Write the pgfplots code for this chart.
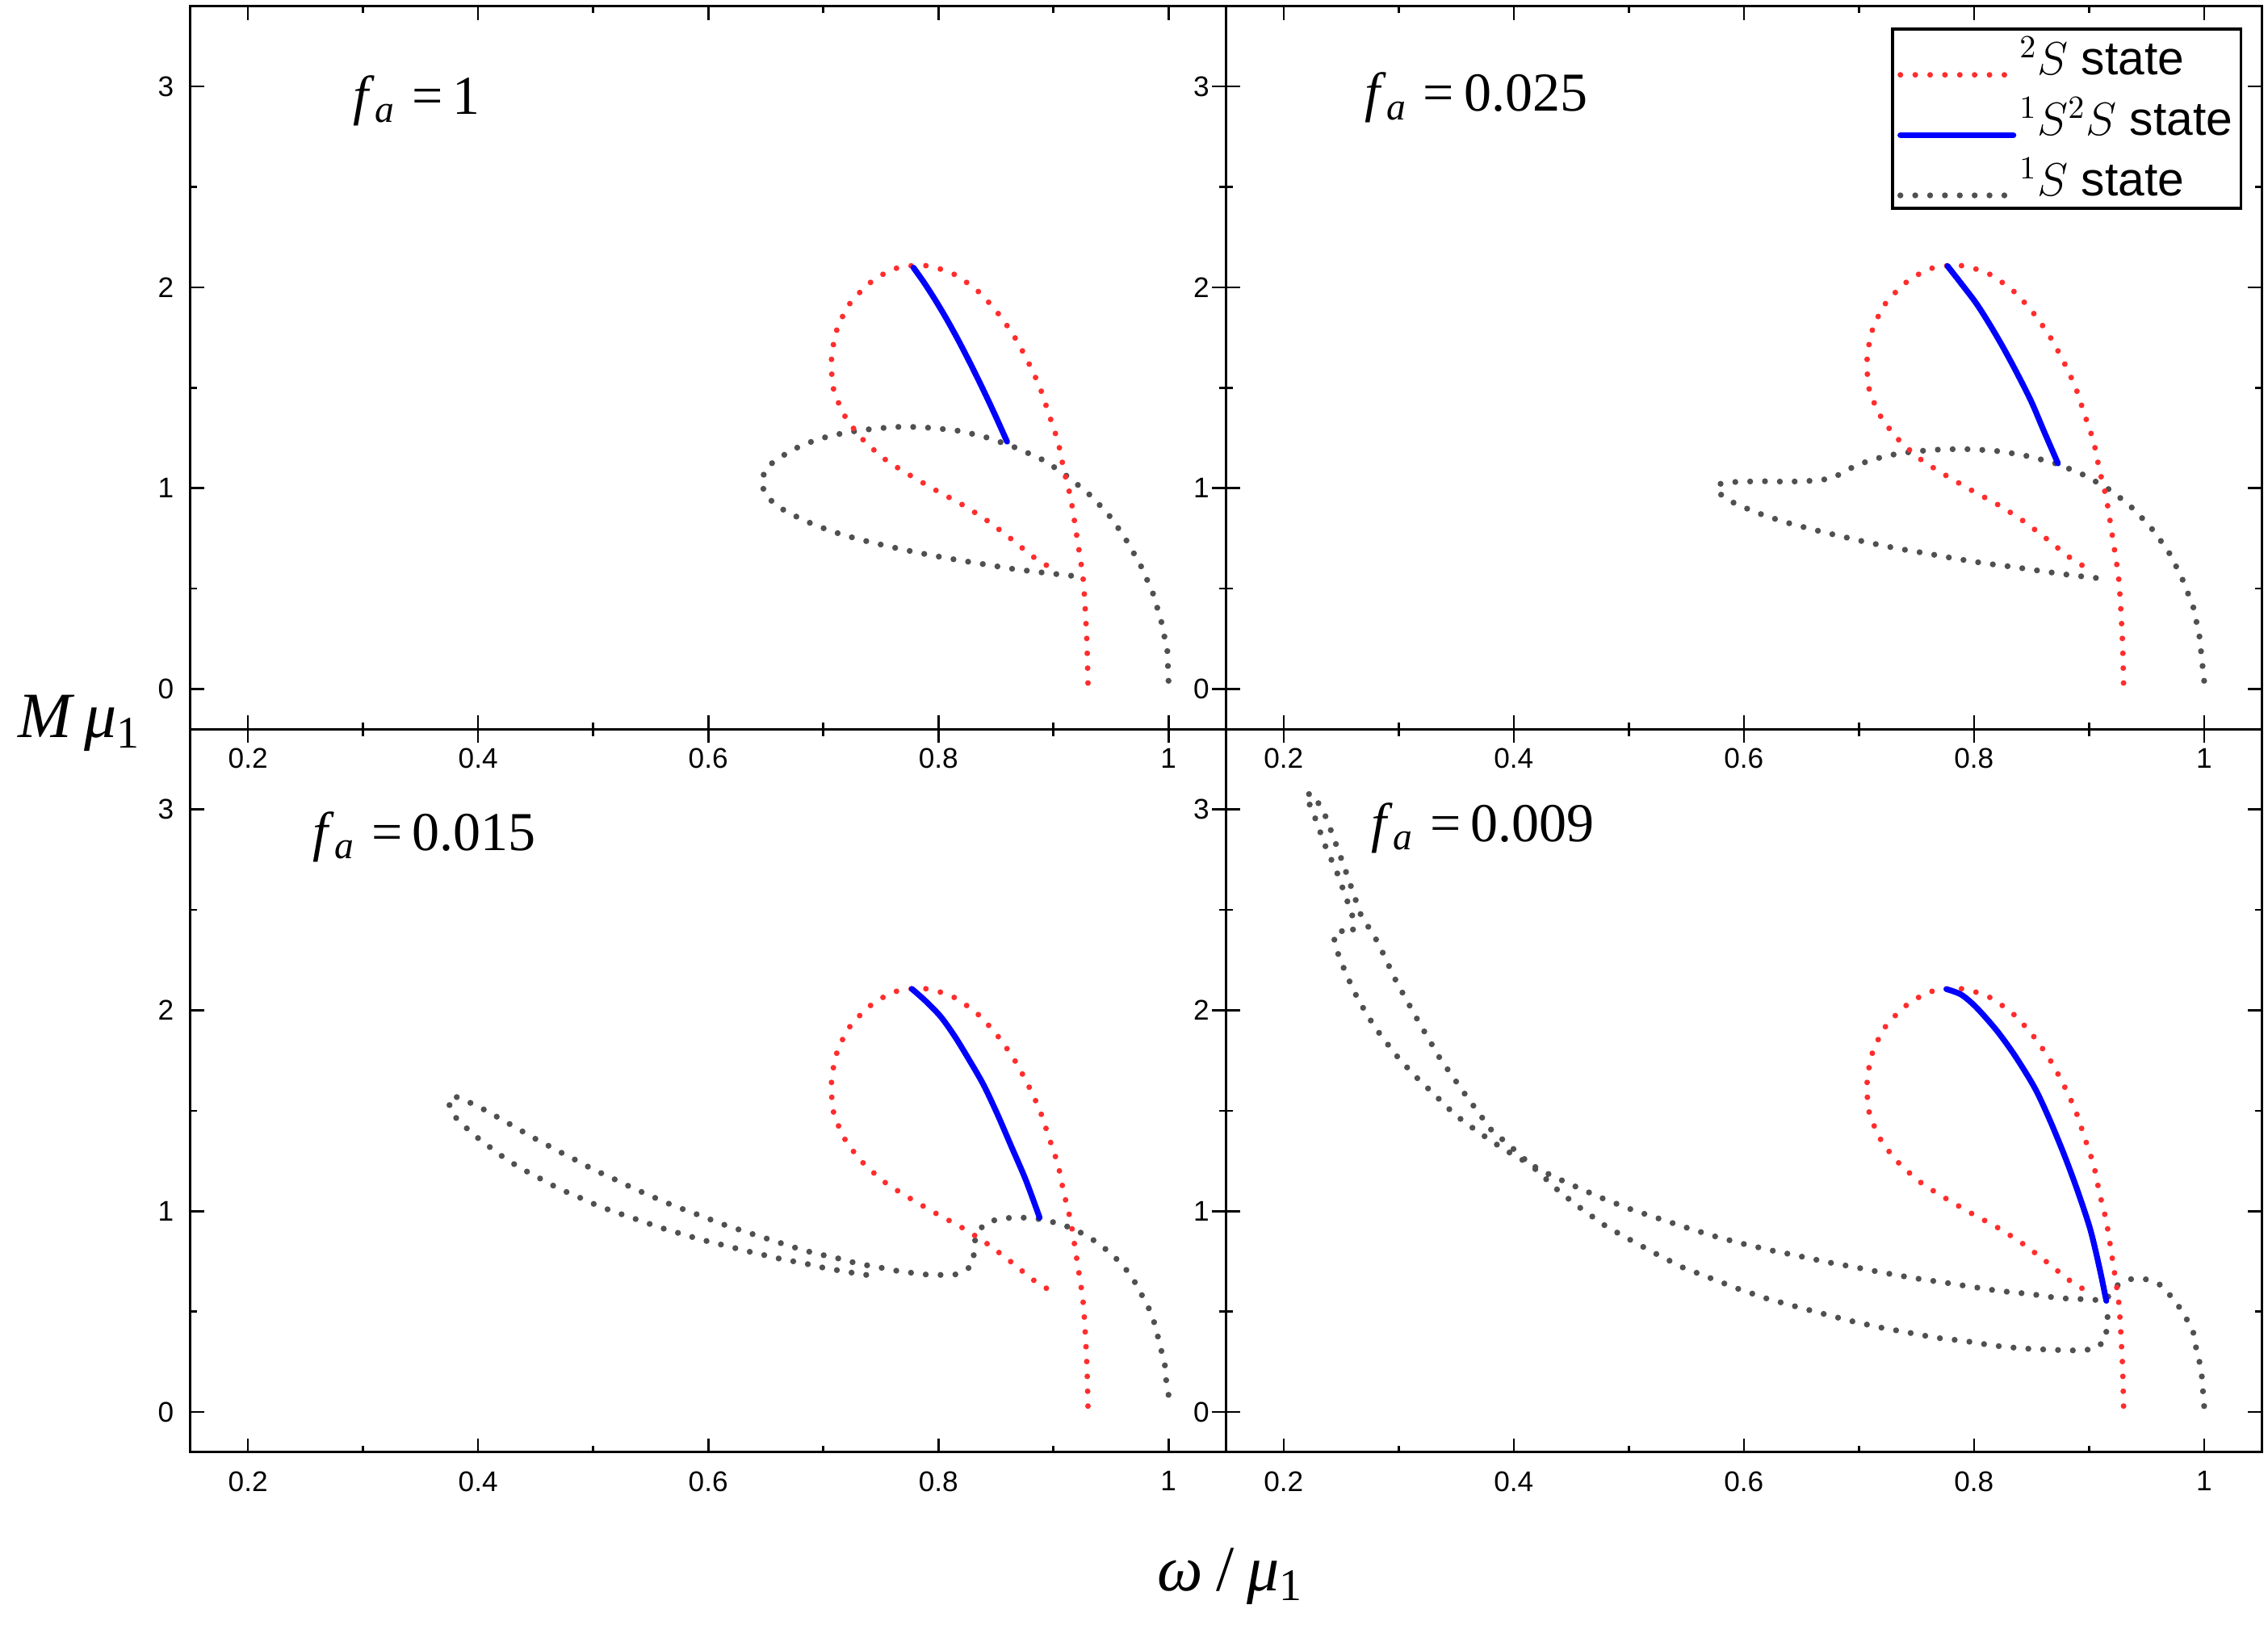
\documentclass[border=0pt]{standalone}
\usepackage{fontspec}
\setmainfont{Liberation Sans}
\newfontfamily\tms{Liberation Serif}
\usepackage{pgfplots}
\usepackage{pgfplotstable}
\pgfplotsset{compat=1.18}
\definecolor{cred}{RGB}{255,45,45}
\definecolor{cgray}{RGB}{80,80,80}
\definecolor{cblue}{RGB}{0,0,255}
\tikzset{
  reddots/.style={cred, line width=1.75pt, line cap=round, dash pattern=on 0pt off 4.6pt},
  graydots/.style={cgray, line width=1.85pt, line cap=round, dash pattern=on 0pt off 4.6pt},
  blueline/.style={cblue, line width=1.8pt, line cap=round, solid},
}
\pgfplotsset{
  panel/.style={
    width=320.77pt, height=224pt, scale only axis,
    xmin=0.15, xmax=1.05, ymin=-0.2, ymax=3.4,
    xtick={0.2,0.4,0.6,0.8,1}, xticklabels={0.2,0.4,0.6,0.8,1},
    ytick={0,1,2,3}, yticklabels={0,1,2,3},
    minor x tick num=1, minor y tick num=1,
    tick align=inside, xtick pos=both, ytick pos=both,
    major tick length=4.3pt, minor tick length=2.1pt,
    axis line style={line width=0.75pt},
    every tick/.style={black, line width=0.65pt},
    tick label style={font=\fontsize{8.8}{10}\selectfont},
    xticklabel style={inner sep=0pt, anchor=north, yshift=-5.7pt},
    yticklabel style={inner sep=0pt, anchor=east, xshift=-5.0pt},
  },
}
\newcommand{\falab}[1]{{\tms\fontsize{17}{19}\selectfont\textit{f}\textsubscript{\textit{a}}\hspace{5pt}=\hspace{3pt}#1}}

\pgfplotstableread{
x y
0.930 0.030
0.929 0.245
0.926 0.536
0.921 0.735
0.915 0.950
0.909 1.092
0.904 1.230
0.896 1.369
0.888 1.505
0.877 1.640
0.865 1.764
0.850 1.884
0.833 1.988
0.811 2.073
0.786 2.110
0.761 2.091
0.740 2.020
0.722 1.911
0.711 1.776
0.707 1.632
0.709 1.490
0.719 1.356
0.734 1.244
0.754 1.142
0.776 1.062
0.798 0.989
0.821 0.917
0.842 0.840
0.862 0.753
0.882 0.660
0.894 0.616
}\redtab

\pgfplotstableread{
x y
1.000 0.041
0.999 0.189
0.994 0.330
0.987 0.469
0.977 0.602
0.965 0.726
0.951 0.847
0.934 0.955
0.914 1.051
0.893 1.135
0.869 1.198
0.845 1.248
0.820 1.284
0.795 1.300
0.770 1.307
0.745 1.297
0.720 1.278
0.695 1.244
0.672 1.189
0.651 1.107
0.646 1.036
0.649 0.974
0.658 0.918
0.670 0.876
0.693 0.815
0.717 0.767
0.741 0.731
0.767 0.697
0.791 0.669
0.816 0.643
0.842 0.619
0.867 0.596
0.892 0.579
0.917 0.563
}\grayA

\pgfplotstableread{
x y
1.000 0.041
0.996 0.260
0.991 0.401
0.982 0.536
0.971 0.666
0.957 0.782
0.940 0.890
0.920 0.985
0.897 1.062
0.873 1.120
0.849 1.157
0.824 1.183
0.799 1.194
0.774 1.194
0.748 1.183
0.724 1.162
0.699 1.118
0.677 1.050
0.664 1.038
0.639 1.032
0.614 1.035
0.588 1.030
0.579 1.021
0.576 0.986
0.587 0.938
0.610 0.880
0.635 0.832
0.660 0.794
0.684 0.761
0.709 0.728
0.734 0.699
0.759 0.675
0.784 0.649
0.809 0.626
0.834 0.608
0.859 0.587
0.884 0.567
0.909 0.551
}\grayB

\pgfplotstableread{
x y
1.000 0.086
0.998 0.158
0.997 0.229
0.994 0.301
0.991 0.371
0.988 0.439
0.984 0.504
0.978 0.570
0.972 0.636
0.965 0.697
0.957 0.751
0.947 0.804
0.936 0.852
0.925 0.890
0.914 0.920
0.901 0.944
0.888 0.961
0.875 0.968
0.863 0.968
0.850 0.958
0.839 0.933
0.832 0.863
0.831 0.790
0.829 0.727
0.817 0.686
0.804 0.683
0.792 0.683
0.779 0.692
0.766 0.701
0.754 0.715
0.742 0.727
0.730 0.739
0.717 0.760
0.705 0.775
0.692 0.792
0.680 0.811
0.668 0.832
0.656 0.855
0.644 0.876
0.632 0.899
0.620 0.921
0.608 0.944
0.596 0.973
0.584 0.997
0.572 1.024
0.560 1.050
0.549 1.080
0.537 1.108
0.526 1.139
0.515 1.169
0.503 1.200
0.492 1.232
0.481 1.267
0.469 1.301
0.458 1.336
0.447 1.369
0.436 1.406
0.425 1.442
0.414 1.478
0.403 1.513
0.391 1.546
0.379 1.574
0.374 1.547
0.378 1.481
0.388 1.424
0.397 1.377
0.408 1.329
0.418 1.285
0.428 1.246
0.439 1.208
0.451 1.172
0.462 1.137
0.473 1.105
0.485 1.077
0.496 1.047
0.508 1.019
0.520 0.994
0.532 0.971
0.543 0.949
0.556 0.923
0.567 0.903
0.579 0.884
0.591 0.863
0.604 0.844
0.617 0.826
0.629 0.808
0.642 0.790
0.654 0.775
0.666 0.758
0.679 0.746
0.691 0.731
0.703 0.715
0.716 0.703
0.728 0.691
0.741 0.680
}\grayC

\pgfplotstableread{
x y
1.000 0.030
0.998 0.179
0.996 0.249
0.993 0.321
0.991 0.391
0.985 0.461
0.979 0.518
0.972 0.571
0.963 0.631
0.950 0.661
0.937 0.663
0.926 0.639
0.920 0.600
0.914 0.555
0.900 0.561
0.874 0.567
0.849 0.588
0.822 0.603
0.798 0.624
0.773 0.646
0.748 0.667
0.723 0.692
0.698 0.720
0.673 0.746
0.648 0.777
0.624 0.805
0.600 0.837
0.576 0.873
0.552 0.915
0.528 0.960
0.503 1.007
0.479 1.060
0.456 1.117
0.433 1.177
0.411 1.244
0.391 1.310
0.369 1.395
0.349 1.480
0.332 1.576
0.313 1.680
0.297 1.782
0.283 1.888
0.273 1.973
0.263 2.075
0.254 2.185
0.246 2.302
0.244 2.355
0.247 2.401
0.259 2.380
0.262 2.433
0.255 2.550
0.247 2.678
0.236 2.822
0.228 2.949
0.219 3.077
0.226 3.077
0.237 2.960
0.252 2.726
0.267 2.478
0.282 2.338
0.298 2.143
0.317 1.947
0.336 1.760
0.358 1.580
0.380 1.408
0.401 1.304
0.421 1.198
0.440 1.096
0.460 1.007
0.481 0.922
0.503 0.852
0.525 0.784
0.547 0.720
0.571 0.667
0.595 0.614
0.619 0.567
0.643 0.529
0.668 0.491
0.692 0.455
0.717 0.423
0.742 0.397
0.767 0.370
0.791 0.355
0.817 0.331
0.842 0.317
0.868 0.310
0.893 0.306
0.906 0.317
0.915 0.363
0.915 0.433
0.917 0.508
}\grayD

\begin{document}
\begin{tikzpicture}
% top left: f_a = 1
\begin{axis}[panel, at={(0pt,224pt)}, anchor=south west]
\addplot[graydots] table {\grayA};
\addplot[reddots, smooth, tension=0.4] table {\redtab};
\addplot[blueline, smooth] coordinates {(0.7783,2.0983) (0.7872,2.0265) (0.7965,1.9442) (0.8062,1.8517) (0.8162,1.7485) (0.8265,1.6350) (0.8372,1.5109) (0.8483,1.3764) (0.8597,1.2315)};
\node[anchor=base west, inner sep=0pt] at (axis cs:0.291,2.862) {\falab{1}};
\end{axis}
% top right: f_a = 0.025
\begin{axis}[panel, at={(320.77pt,224pt)}, anchor=south west,
  legend style={at={(0.981,0.970)}, anchor=north east, draw=black, line width=0.8pt, fill=white,
    font=\fontsize{14.7}{16}\selectfont, inner sep=1.5pt, row sep=3.5pt,
    nodes={inner sep=1pt, anchor=base west}},
  legend cell align=left,
  legend image code/.code={\draw[#1] (0pt,0pt) -- (35pt,0pt);},
]
\addplot[graydots, forget plot] table {\grayB};
\addplot[reddots, smooth, tension=0.4, forget plot] table {\redtab};
\addplot[blueline, smooth, forget plot] coordinates {(0.777,2.106) (0.789,2.018) (0.802,1.920) (0.814,1.812) (0.826,1.694) (0.838,1.566) (0.850,1.429) (0.861,1.281) (0.873,1.123)};
\addlegendimage{reddots}
\addlegendentry{$^{2}S$ state}
\addlegendimage{blueline}
\addlegendentry{$^{1}S^{2}S$ state}
\addlegendimage{graydots}
\addlegendentry{$^{1}S$ state}
\node[anchor=base west, inner sep=0pt] at (axis cs:0.270,2.877) {\falab{0.025}};
\end{axis}
% bottom left: f_a = 0.015
\begin{axis}[panel, at={(0pt,0pt)}, anchor=south west]
\addplot[graydots] table {\grayC};
\addplot[reddots, smooth, tension=0.4] table {\redtab};
\addplot[blueline, smooth] coordinates {(0.777,2.107) (0.789,2.046) (0.802,1.969) (0.814,1.873) (0.826,1.761) (0.839,1.632) (0.851,1.487) (0.863,1.328) (0.876,1.155) (0.888,0.968)};
\node[anchor=base west, inner sep=0pt] at (axis cs:0.256,2.797) {\falab{0.015}};
\end{axis}
% bottom right: f_a = 0.009
\begin{axis}[panel, at={(320.77pt,0pt)}, anchor=south west]
\addplot[graydots] table {\grayD};
\addplot[reddots, smooth, tension=0.4] table {\redtab};
\addplot[blueline, smooth] coordinates {(0.776,2.106) (0.789,2.078) (0.802,2.015) (0.820,1.898) (0.836,1.771) (0.853,1.612) (0.866,1.453) (0.879,1.272) (0.890,1.102) (0.901,0.911) (0.909,0.720) (0.915,0.554)};
\node[anchor=base west, inner sep=0pt] at (axis cs:0.276,2.840) {\falab{0.009}};
\end{axis}
% outer axis labels
\node[anchor=base west, inner sep=0pt] at (-53.6pt,221.4pt) {\tms\fontsize{20}{22}\selectfont\textit{M}\hspace{3pt}\textit{μ}\textsubscript{1}};
\node[anchor=base west, inner sep=0pt] at (299.4pt,-42.9pt) {\tms\fontsize{20}{22}\selectfont\textit{ω}\hspace{4pt}/\hspace{4pt}\textit{μ}\textsubscript{1}};
\pgfresetboundingbox
\path[use as bounding box] (-59.0pt,-57.5pt) rectangle (643.5pt,449.9pt);
\end{tikzpicture}
\end{document}
